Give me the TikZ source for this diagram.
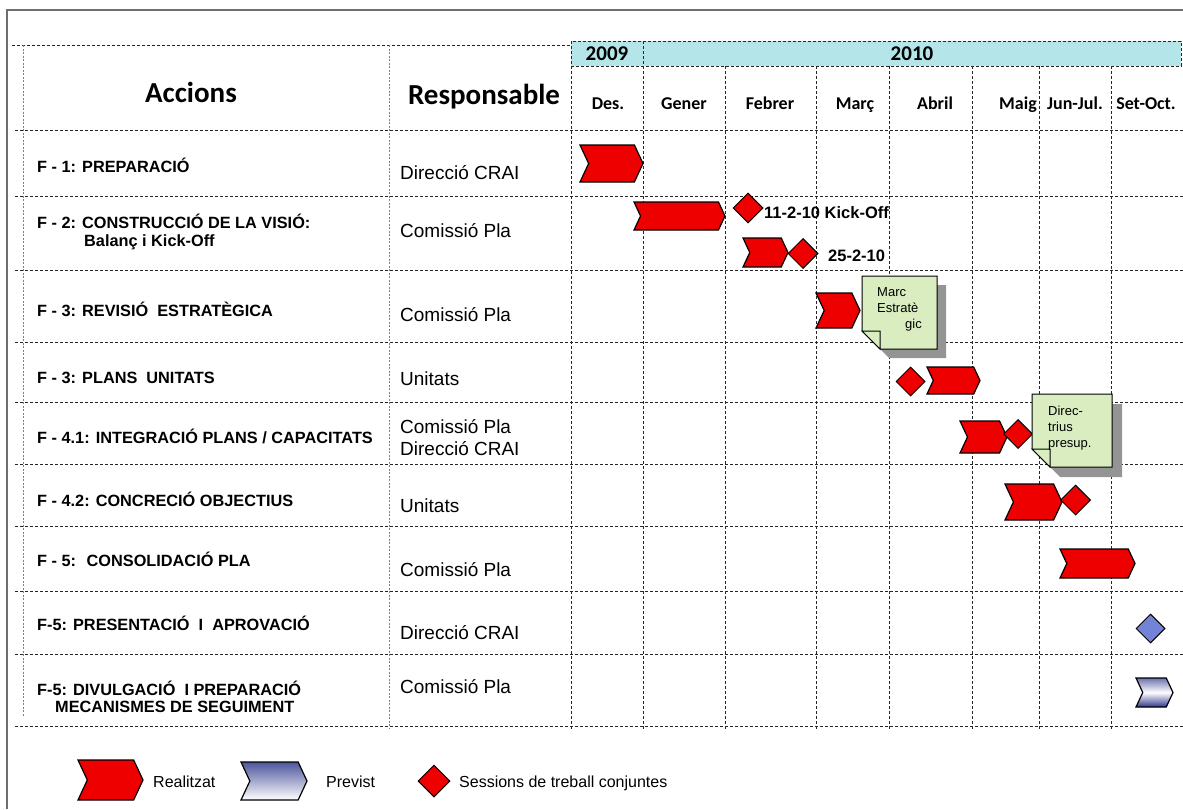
\documentclass[tikz,border=0pt]{standalone}
\usepackage{fontspec}
\setmainfont{Liberation Sans}
\newfontfamily\calibri{Carlito}
\usepackage{tikz}
\usetikzlibrary{shapes.symbols,shapes.geometric}

\definecolor{fetred}{RGB}{238,0,0}
\definecolor{yearband}{RGB}{180,230,233}
\definecolor{notegreen}{RGB}{218,237,192}
\definecolor{previstblue}{RGB}{115,131,216}
\definecolor{previstdark}{RGB}{45,55,140}
\definecolor{framegray}{RGB}{110,110,110}

\begin{document}
\begin{tikzpicture}[
        x=1pt, y=-1pt,
        grid/.style={dash pattern=on 3pt off 2pt, line width=0.9pt, black!85},
        gridlight/.style={dash pattern=on 2pt off 1.5pt, line width=0.9pt, black!50},
        chevron/.style={signal, signal from=west, signal to=east, signal pointer angle=130, draw, line width=1.2pt, inner sep=0pt},
        fet/.style={chevron, fill=fetred},
        previst/.style={chevron, top color=previstdark!70, bottom color=previstdark, middle color=white},
        sessio/.style={diamond, aspect=1, draw, line width=1pt, fill=fetred, minimum size=30pt, inner sep=0pt},
        titol/.style={anchor=base, font=\calibri\fontsize{29}{32}\selectfont\bfseries, inner sep=0pt},
        any/.style={font=\calibri\fontsize{21}{24}\selectfont\bfseries, inner sep=0pt},
        mes/.style={anchor=base, font=\calibri\fontsize{18}{20}\selectfont\bfseries, inner sep=0pt},
        accio/.style={anchor=base west, font=\fontsize{16.3}{18}\selectfont\bfseries, inner sep=0pt},
        resp/.style={anchor=base west, font=\fontsize{19}{22}\selectfont, inner sep=0pt},
        fita/.style={anchor=base west, font=\fontsize{16.5}{18}\selectfont\bfseries, inner sep=0pt},
        nota/.style={draw, line width=1pt, fill=notegreen},
        notaombra/.style={fill=black!42},
        notatext/.style={anchor=north west, align=left, font=\fontsize{13}{16}\selectfont, inner sep=0pt},
        llegenda/.style={anchor=base west, font=\fontsize{16}{18}\selectfont, inner sep=0pt}
        ]
    \useasboundingbox (0,0) rectangle (1183,809);

    % Frame
    \draw[framegray, line width=1.8pt] (7,809) -- (7,10) -- (1183,10);

    % Year band
    \fill[yearband] (571,41) rectangle (1181,66);

    % Grid
    \foreach \y in {130,196,270,342,402,464,526,591,654,726}
        \draw[grid] (15,\y) -- (1183,\y);
    \draw[grid] (12,45) -- (571,45);
    \draw[grid] (571,41) rectangle (1181,66);
    \draw[gridlight] (23,45) -- (23,716);
    \draw[gridlight] (389,45) -- (389,728);
    \foreach \x in {571,643}
        \draw[grid] (\x,41) -- (\x,730);
    \foreach \x in {725,816,889,972,1039,1111}
        \draw[grid] (\x,66) -- (\x,730);

    % Header
    \node[any] (y2009) at (607,54) {2009};
    \node[any] (y2010) at (912,54) {2010};
    \node[titol] (accions) at (191,102) {Accions};
    \node[titol] (responsable) at (484,104) {Responsable};
    \node[mes] (des) at (608,109) {Des.};
    \node[mes] (gener) at (684,109) {Gener};
    \node[mes] (febrer) at (770,109) {Febrer};
    \node[mes] (marc) at (855,109) {Març};
    \node[mes] (abril) at (935,109) {Abril};
    \node[mes, anchor=base east] (maig) at (1037,109) {Maig};
    \node[mes] (junjul) at (1075,109) {Jun-Jul.};
    \node[mes] (setoct) at (1146,109) {Set-Oct.};

    % Actions
    \node[accio] (f1) at (37,172) {F - 1: PREPARACIÓ};
    \node[accio] (f2) at (37,228) {F - 2: CONSTRUCCIÓ DE LA VISIÓ:};
    \node[accio] (f2b) at (84,246) {Balanç i Kick-Off};
    \node[accio] (f3) at (37,316) {F - 3: REVISIÓ \ ESTRATÈGICA};
    \node[accio] (f3b) at (37,383) {F - 3: PLANS \ UNITATS};
    \node[accio] (f41) at (37,443) {F - 4.1: INTEGRACIÓ PLANS / CAPACITATS};
    \node[accio] (f42) at (37,506) {F - 4.2: CONCRECIÓ OBJECTIUS};
    \node[accio] (f5) at (37,566) {F - 5: \ CONSOLIDACIÓ PLA};
    \node[accio] (f5b) at (37,630) {F-5: PRESENTACIÓ \ I \ APROVACIÓ};
    \node[accio] (f5c) at (37,695) {F-5: DIVULGACIÓ \ I PREPARACIÓ};
    \node[accio] (f5d) at (55,712) {MECANISMES DE SEGUIMENT};

    % Responsables
    \node[resp] (r1) at (400,179) {Direcció CRAI};
    \node[resp] (r2) at (400,237) {Comissió Pla};
    \node[resp] (r3) at (400,321) {Comissió Pla};
    \node[resp] (r3b) at (400,385) {Unitats};
    \node[resp] (r41) at (400,433) {Comissió Pla};
    \node[resp] (r41b) at (400,455) {Direcció CRAI};
    \node[resp] (r42) at (400,512) {Unitats};
    \node[resp] (r5) at (400,576) {Comissió Pla};
    \node[resp] (r5b) at (400,639) {Direcció CRAI};
    \node[resp] (r5c) at (400,693) {Comissió Pla};

    % Bars
    \node[fet, minimum width=63pt, minimum height=37pt] (bprep) at (611.5,163.5) {};
    \node[fet, minimum width=91pt, minimum height=28pt] (bvisio) at (679.5,216) {};
    \node[fet, minimum width=45pt, minimum height=29pt] (bbalanc) at (765.5,252.5) {};
    \node[fet, minimum width=44pt, minimum height=35pt] (brevisio) at (838,310.5) {};
    \node[fet, minimum width=53pt, minimum height=27pt] (bplans) at (953.5,380.5) {};
    \node[fet, minimum width=47pt, minimum height=32pt] (bintegr) at (983.5,437) {};
    \node[fet, minimum width=57pt, minimum height=36pt] (bconcr) at (1033.5,502) {};
    \node[fet, minimum width=75pt, minimum height=29pt] (bconsol) at (1097.5,563.5) {};
    \node[previst, minimum width=37pt, minimum height=29pt] (bdivulg) at (1154.5,692.5) {};

    % Sessions
    \node[sessio] (kickoff) at (748,208) {};
    \node[fita] (kickofftxt) at (764,218.5) {11-2-10 Kick-Off};
    \node[sessio] (s2502) at (803,253.5) {};
    \node[fita] (s2502txt) at (828,261.5) {25-2-10};
    \node[sessio, minimum size=29pt] (splans) at (910.5,381.5) {};
    \node[sessio, minimum size=29pt] (sintegr) at (1018,434) {};
    \node[sessio] (sconcr) at (1075.5,500) {};
    \node[sessio, minimum size=29pt, fill=previstblue] (saprov) at (1150.5,628.5) {};

    % Notes
    \fill[notaombra] (871,285) -- (946,285) -- (946,358) -- (889,358) -- (871,340) -- cycle;
    \draw[nota] (862,276) -- (937,276) -- (937,349) -- (880,349) -- (862,331) -- cycle;
    \draw[nota] (862,331) -- (880,331) -- (880,349) -- cycle;
    \node[notatext] (marcnota) at (877,287) {Marc\\Estratè\\\hspace*{28pt}gic};

    \fill[notaombra] (1042,404) -- (1122,404) -- (1122,477) -- (1060,477) -- (1042,459) -- cycle;
    \draw[nota] (1032,394) -- (1112,394) -- (1112,467) -- (1050,467) -- (1032,449) -- cycle;
    \draw[nota] (1032,449) -- (1050,449) -- (1050,467) -- cycle;
    \node[notatext] (dirnota) at (1048,406) {Direc-\\trius\\presup.};

    % Legend
    \node[fet, minimum width=65pt, minimum height=40pt] (lfet) at (110.5,780) {};
    \node[llegenda] (lfettxt) at (153,787) {Realitzat};
    \node[chevron, top color=previstdark!85, bottom color=white, minimum width=66pt, minimum height=38pt] (lprev) at (274,781) {};
    \node[llegenda] (lprevtxt) at (326,787) {Previst};
    \node[sessio, minimum size=32pt] (lses) at (434,781) {};
    \node[llegenda] (lsestxt) at (459,787) {Sessions de treball conjuntes};

\end{tikzpicture}
\end{document}
